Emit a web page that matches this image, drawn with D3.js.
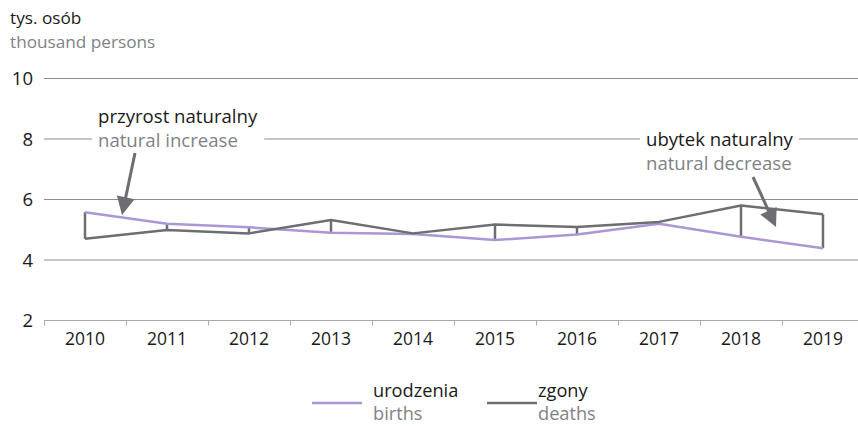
<!DOCTYPE html>
<html>
<head>
<meta charset="utf-8">
<script src="https://cdn.jsdelivr.net/npm/d3@7"></script>
<style>
  html, body { margin: 0; padding: 0; background: #fff; }
  svg { display: block; font-family: "Open Sans", "Noto Sans", sans-serif; }
</style>
</head>
<body>
<svg id="chart" width="858" height="426"></svg>
<script>
// Births and deaths, thousand persons
const years = ["2010", "2011", "2012", "2013", "2014", "2015", "2016", "2017", "2018", "2019"];
const births = [5.58, 5.20, 5.08, 4.90, 4.86, 4.66, 4.84, 5.20, 4.77, 4.39];
const deaths = [4.70, 4.99, 4.88, 5.32, 4.88, 5.17, 5.09, 5.26, 5.80, 5.51];
const yTicks = [2, 4, 6, 8, 10];

const purple = "#ab97d5";
const dark = "#6d6e71";
const gridCol = "#8c8c8c";
const textDark = "#1a1a1a";
const textGrey = "#808285";

const svg = d3.select("#chart");

const x = d3.scaleBand().domain(years).range([44, 864]).padding(0);
const y = d3.scaleLinear().domain([2, 10]).range([320.5, 78.5]);
const cx = d => x(d) + x.bandwidth() / 2;

// Horizontal gridlines
svg.append("g").selectAll("line")
  .data(yTicks.filter(v => v !== 2))
  .join("line")
  .attr("x1", 44).attr("x2", 858)
  .attr("y1", d => y(d)).attr("y2", d => y(d))
  .attr("stroke", gridCol).attr("stroke-width", 1);

// Y tick labels
svg.append("g").selectAll("text")
  .data(yTicks)
  .join("text")
  .attr("x", 33).attr("y", d => y(d))
  .attr("dy", "0.36em")
  .attr("text-anchor", "end")
  .attr("font-size", 18.5)
  .attr("fill", textDark)
  .text(d => d);

// X axis
const xAxis = svg.append("g");
xAxis.append("line")
  .attr("x1", 44).attr("x2", 858)
  .attr("y1", y(2)).attr("y2", y(2))
  .attr("stroke", "#a7a9ac").attr("stroke-width", 1);
xAxis.selectAll("line.tick")
  .data(years)
  .join("line")
  .attr("class", "tick")
  .attr("x1", d => x(d) + 0.5).attr("x2", d => x(d) + 0.5)
  .attr("y1", y(2)).attr("y2", y(2) + 5)
  .attr("stroke", "#a7a9ac").attr("stroke-width", 1);
xAxis.selectAll("text")
  .data(years)
  .join("text")
  .attr("x", d => cx(d)).attr("y", 345)
  .attr("text-anchor", "middle")
  .attr("font-size", 18.5)
  .attr("fill", textDark)
  .attr("textLength", 40)
  .attr("lengthAdjust", "spacingAndGlyphs")
  .text(d => d);

// Header
svg.append("text").attr("x", 10).attr("y", 24).attr("font-size", 17.2).attr("fill", textDark).text("tys. osób");
svg.append("text").attr("x", 10).attr("y", 48).attr("font-size", 17.2).attr("fill", textGrey).text("thousand persons");

// Vertical connectors between births and deaths
svg.append("g").selectAll("line")
  .data(years)
  .join("line")
  .attr("x1", d => cx(d)).attr("x2", d => cx(d))
  .attr("y1", (d, i) => y(births[i])).attr("y2", (d, i) => y(deaths[i]))
  .attr("stroke", dark).attr("stroke-width", 2.5);

const line = d3.line().x((d, i) => cx(years[i])).y(d => y(d));

svg.append("path").datum(births)
  .attr("d", line).attr("fill", "none")
  .attr("stroke", purple).attr("stroke-width", 2.5).attr("stroke-linejoin", "round");
svg.append("path").datum(deaths)
  .attr("d", line).attr("fill", "none")
  .attr("stroke", dark).attr("stroke-width", 2.5).attr("stroke-linejoin", "round");

// Annotations, set on the 8 gridline with a white gap behind them
function label(x0, yTop, pl, en, padL, padR) {
  const g = svg.append("g");
  g.append("rect").attr("x", x0 - padL).attr("y", y(8) - 4).attr("width", 10).attr("height", 8).attr("fill", "#fff");
  const t1 = g.append("text").attr("x", x0).attr("y", yTop).attr("font-size", 18.6).attr("fill", textDark).text(pl);
  const t2 = g.append("text").attr("x", x0).attr("y", yTop + 24).attr("font-size", 18.6).attr("fill", textGrey).text(en);
  const w = Math.max(t1.node().getComputedTextLength(), t2.node().getComputedTextLength());
  g.select("rect").attr("width", w + padL + padR);
}
label(98, 123, "przyrost naturalny", "natural increase", 6, 7);
label(646, 146, "ubytek naturalny", "natural decrease", 6, 6);

// Arrows
function arrow(x1, y1, x2, y2) {
  const dx = x2 - x1, dy = y2 - y1, L = Math.hypot(dx, dy);
  const ux = dx / L, uy = dy / L, hl = 18, hw = 9;
  const bx = x2 - ux * hl, by = y2 - uy * hl;
  svg.append("line").attr("x1", x1).attr("y1", y1).attr("x2", bx + ux * 2).attr("y2", by + uy * 2)
    .attr("stroke", dark).attr("stroke-width", 3);
  svg.append("path")
    .attr("d", `M${x2},${y2}L${bx - uy * hw},${by + ux * hw}L${bx + uy * hw},${by - ux * hw}Z`)
    .attr("fill", dark);
}
arrow(135, 153, 122, 215);
arrow(753, 177, 776, 227);

// Legend
const legend = [
  { x: 312, pl: "urodzenia", en: "births", c: purple },
  { x: 487, pl: "zgony", en: "deaths", c: dark }
];
const lg = svg.append("g").selectAll("g").data(legend).join("g");
lg.append("line")
  .attr("x1", d => d.x).attr("x2", d => d.x + 50)
  .attr("y1", 403).attr("y2", 403)
  .attr("stroke", d => d.c).attr("stroke-width", 2.5);
lg.append("text").attr("x", (d, i) => d.x + (i ? 51 : 61)).attr("y", 397).attr("font-size", 18.2).attr("fill", textDark).text(d => d.pl);
lg.append("text").attr("x", (d, i) => d.x + (i ? 51 : 61)).attr("y", 420).attr("font-size", 18.2).attr("fill", textGrey).text(d => d.en);
</script>
</body>
</html>
